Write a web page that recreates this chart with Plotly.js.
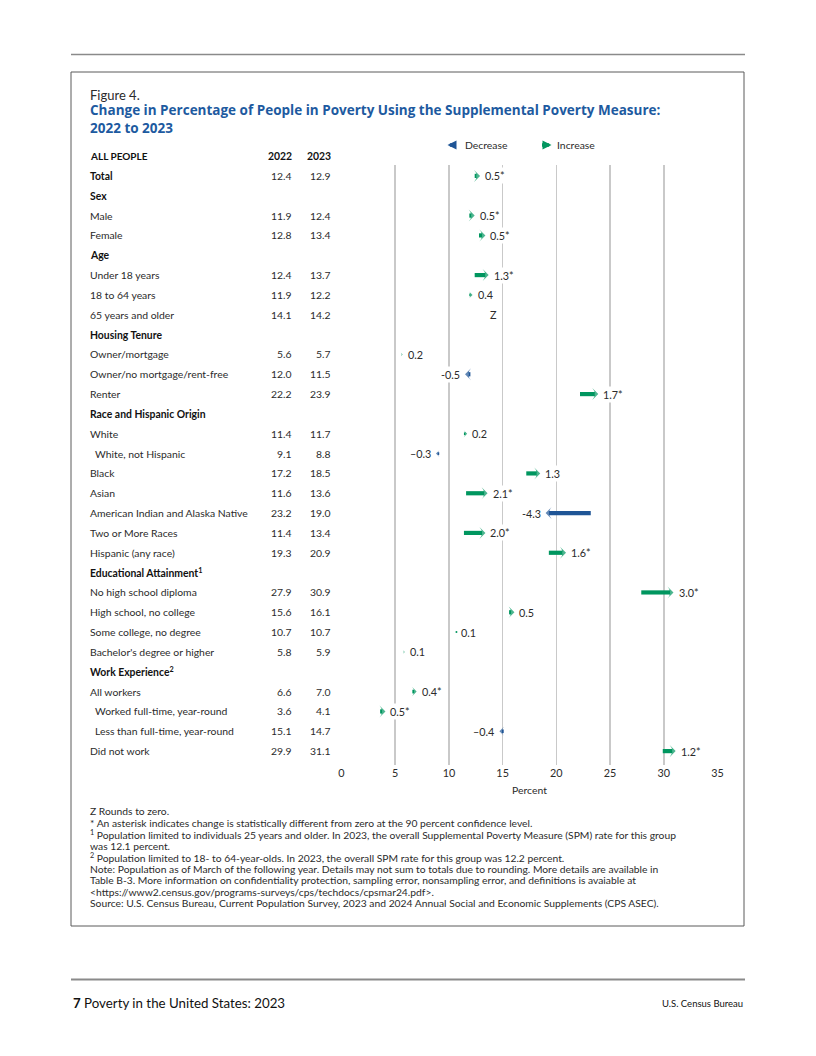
<!DOCTYPE html>
<html>
<head>
<meta charset="utf-8">
<script src="https://cdn.plot.ly/plotly-3.0.1.min.js"></script>
<style>html,body{margin:0;padding:0;background:#fff;}#chart{width:816px;height:1056px;}</style>
</head>
<body>
<div id="chart"></div>
<script>
// ---- data ----
const labels = [
  "Total", "Sex", "Male", "Female", "Age", "Under 18 years", "18 to 64 years", "65 years and older",
  "Housing Tenure", "Owner/mortgage", "Owner/no mortgage/rent-free", "Renter",
  "Race and Hispanic Origin", "White", "White, not Hispanic", "Black", "Asian",
  "American Indian and Alaska Native", "Two or More Races", "Hispanic (any race)",
  "Educational Attainment<sup>1</sup>", "No high school diploma", "High school, no college",
  "Some college, no degree", "Bachelor's degree or higher",
  "Work Experience<sup>2</sup>", "All workers", "Worked full-time, year-round",
  "Less than full-time, year-round", "Did not work"
];
const isBold = [1,1,0,0,1,0,0,0,1,0,0,0,1,0,0,0,0,0,0,0,1,0,0,0,0,1,0,0,0,0];
const isIndented = [0,0,0,0,0,0,0,0,0,0,0,0,0,0,1,0,0,0,0,0,0,0,0,0,0,0,0,1,1,0];
const v2022 = [12.4,null,11.9,12.8,null,12.4,11.9,14.1,null,5.6,12.0,22.2,null,11.4,9.1,17.2,11.6,23.2,11.4,19.3,null,27.9,15.6,10.7,5.8,null,6.6,3.6,15.1,29.9];
const v2023 = [12.9,null,12.4,13.4,null,13.7,12.2,14.2,null,5.7,11.5,23.9,null,11.7,8.8,18.5,13.6,19.0,13.4,20.9,null,30.9,16.1,10.7,5.9,null,7.0,4.1,14.7,31.1];
const changeLabels = ["0.5*",null,"0.5*","0.5*",null,"1.3*","0.4","Z",null,"0.2","-0.5","1.7*",null,"0.2","\u20130.3","1.3","2.1*","-4.3","2.0*","1.6*",null,"3.0*","0.5","0.1","0.1",null,"0.4*","0.5*","\u20130.4","1.2*"];
const tickValues = [0,5,10,15,20,25,30,35];
const columnHeaders = ["ALL PEOPLE", "2022", "2023"];
const footnotes = [
  "Z Rounds to zero.",
  "* An asterisk indicates change is statistically different from zero at the 90 percent confidence level.",
  "<sup>1</sup> Population limited to individuals 25 years and older. In 2023, the overall Supplemental Poverty Measure (SPM) rate for this group",
  "was 12.1 percent.",
  "<sup>2</sup> Population limited to 18- to 64-year-olds. In 2023, the overall SPM rate for this group was 12.2 percent.",
  "Note: Population as of March of the following year. Details may not sum to totals due to rounding. More details are available in",
  "Table B-3. More information on confidentiality protection, sampling error, nonsampling error, and definitions is avaiable at",
  "&lt;https://www2.census.gov/programs-surveys/cps/techdocs/cpsmar24.pdf&gt;.",
  "Source: U.S. Census Bureau, Current Population Survey, 2023 and 2024 Annual Social and Economic Supplements (CPS ASEC)."
];

// ---- styling ----
const GREEN = "#00965f";
const BLUE = "#1f5596";
const TEXT = "#2b2b2b";
const FONT = "Lato, 'Liberation Sans', Arial, sans-serif";
const TFONT = "'Open Sans', Lato, Arial, sans-serif";
const W = 816, H = 1056;
const px = x => x / W;
const py = y => 1 - y / H;

const annotations = [];
const shapes = [];
const traces = [];

function paperText(x, y, text, size, opts) {
  annotations.push(Object.assign({xref:"paper", yref:"paper", x:px(x), y:py(y), xanchor:"left", yanchor:"middle",
    text:text, showarrow:false, font:{family:FONT, size:size, color:TEXT}}, opts || {}));
}

// Title block
paperText(88, 95, "Figure 4.", 13);
paperText(88, 119, "<b>Change in Percentage of People in Poverty Using the Supplemental Poverty Measure:<br>2022 to 2023</b>", 13.5,
  {align:"left", font:{family:TFONT, size:13.5, color:"#1d5aa0"}});

// Legend
annotations.push({xref:"paper", yref:"paper", x:px(447.5), y:py(145), ax:11.5, ay:0, text:" ", showarrow:true,
  arrowhead:2, arrowsize:0.5, arrowwidth:3.6, arrowcolor:BLUE, standoff:0});
paperText(463, 145, "Decrease", 10.4);
annotations.push({xref:"paper", yref:"paper", x:px(551.5), y:py(145), ax:-12.5, ay:0, text:" ", showarrow:true,
  arrowhead:2, arrowsize:0.5, arrowwidth:3.6, arrowcolor:GREEN, standoff:0});
paperText(555, 145, "Increase", 10.4);

// Column headers
paperText(88, 156, "<b>"+columnHeaders[0]+"</b>", 10, {font:{family:FONT, size:10, color:"#111"}});
paperText(294, 156, "<b>"+columnHeaders[1]+"</b>", 10.4, {xanchor:"right", font:{family:FONT, size:10.4, color:"#111"}});
paperText(333, 156, "<b>"+columnHeaders[2]+"</b>", 10.4, {xanchor:"right", font:{family:FONT, size:10.4, color:"#111"}});

// Table rows + arrows
const dotX = [], dotY = [];
labels.forEach((lab, i) => {
  annotations.push({xref:"paper", yref:"y", x:px(isIndented[i] ? 93 : 88), y:i, xanchor:"left", yanchor:"middle",
    text: isBold[i] ? "<b>"+lab+"</b>" : lab, showarrow:false,
    font:{family:FONT, size:10.4, color: isBold[i] ? "#111" : TEXT}});
  if (v2022[i] === null) return;
  annotations.push({xref:"paper", yref:"y", x:px(294), y:i, xanchor:"right", yanchor:"middle", text:v2022[i].toFixed(1),
    showarrow:false, font:{family:FONT, size:10.4, color:TEXT}});
  annotations.push({xref:"paper", yref:"y", x:px(333), y:i, xanchor:"right", yanchor:"middle", text:v2023[i].toFixed(1),
    showarrow:false, font:{family:FONT, size:10.4, color:TEXT}});

  const a = v2022[i], b = v2023[i];
  const d = b - a;
  const up = d >= 0;
  const col = up ? GREEN : BLUE;
  if (changeLabels[i] === "Z") {
    annotations.push({xref:"x", yref:"y", x:(a+b)/2, y:i, xanchor:"center", yanchor:"middle", text:"Z", showarrow:false,
      font:{family:FONT, size:10.8, color:TEXT}});
    return;
  }
  const len = Math.abs(d);
  if (len < 0.05) {
    dotX.push(a); dotY.push(i);
  } else {
    const big = len >= 0.45;
    const lw = big ? 4.2 : Math.max(1, len * 9);
    const ms = big ? 8.5 : Math.max(2.5, len * 16);
    traces.push({
      x:[a, b], y:[i, i], type:"scatter", mode:"lines+markers", hoverinfo:"skip", showlegend:false,
      line:{color:col, width:lw, backoff:"auto"},
      marker:{color:col, size:[0, ms], symbol:"arrow-wide", angleref:"previous", line:{width:0}},
      cliponaxis:false
    });
  }
  annotations.push({xref:"x", yref:"y", x: up ? Math.max(a,b) : Math.min(a,b), y:i, yanchor:"middle",
    xanchor: up ? "left" : "right", xshift: up ? 3 : -3, text:changeLabels[i], showarrow:false,
    bgcolor:"#ffffff", borderpad:1, font:{family:FONT, size:10.8, color:TEXT}});
});

traces.push({
  x: dotX, y: dotY, type:"scatter", mode:"markers", hoverinfo:"skip", showlegend:false,
  marker:{color:GREEN, size:2, symbol:"circle"}
});

// Footnotes
footnotes.forEach((t, k) => paperText(88, 811 + k * 11.5, t, 10.3));

// Page footer
paperText(71, 1003, "<b>7</b> Poverty in the United States: 2023", 13.3, {font:{family:FONT, size:13.3, color:"#111"}});
paperText(745, 1003, "U.S. Census Bureau", 9.5, {xanchor:"right", font:{family:FONT, size:9.5, color:"#111"}});

// Frame & rules
shapes.push({type:"rect", xref:"paper", yref:"paper", x0:px(71), x1:px(744), y0:py(72), y1:py(926),
  line:{color:"#5a5a5a", width:1}, fillcolor:"rgba(0,0,0,0)", layer:"below"});
shapes.push({type:"line", xref:"paper", yref:"paper", x0:px(71), x1:px(745), y0:py(54.5), y1:py(54.5),
  line:{color:"#8a8a8a", width:1.5}});
shapes.push({type:"line", xref:"paper", yref:"paper", x0:px(71), x1:px(745), y0:py(979.5), y1:py(979.5),
  line:{color:"#8a8a8a", width:2}});

const layout = {
  width: W, height: H,
  margin: {l:0, r:0, t:0, b:0},
  paper_bgcolor: "#ffffff", plot_bgcolor: "#ffffff",
  showlegend: false,
  font: {family: FONT, color: TEXT},
  xaxis: {
    domain: [px(341), px(718)], range: [-0.04, 35.04],
    tickvals: tickValues, ticktext: tickValues.map(String),
    showgrid: true, gridcolor: "#c9c9c9", gridwidth: 1.5, zeroline: false, showline: false,
    ticks: "", tickfont: {family: FONT, size: 10.8, color: TEXT},
    title: {text: "Percent", font: {family: FONT, size: 10.4, color: TEXT}, standoff: 8},
    fixedrange: true
  },
  yaxis: {
    domain: [py(765), py(165)], range: [29.7, -0.55],
    visible: false, showgrid: false, zeroline: false, fixedrange: true
  },
  annotations: annotations,
  shapes: shapes
};

Plotly.newPlot("chart", traces, layout, {displayModeBar: false, staticPlot: true});
</script>
</body>
</html>
